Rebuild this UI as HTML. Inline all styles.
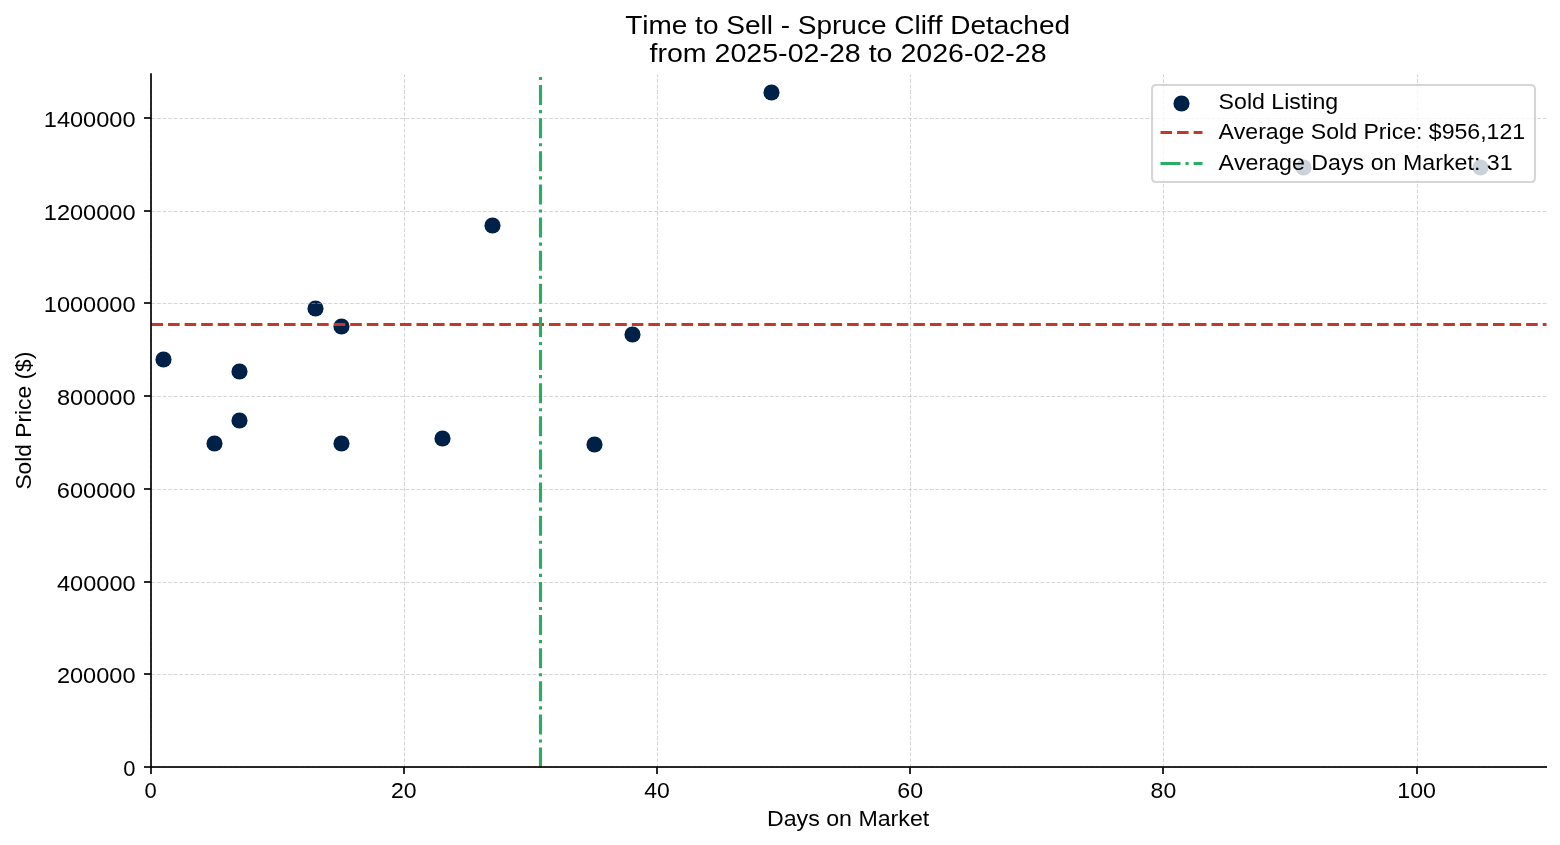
<!DOCTYPE html>
<html><head><meta charset="utf-8"><title>Time to Sell - Spruce Cliff Detached</title>
<style>
html,body{margin:0;padding:0;background:#fff;}
body{width:1560px;height:845px;overflow:hidden;}
svg{display:block;will-change:transform;}
text{font-family:"Liberation Sans",sans-serif;font-kerning:none;font-variant-ligatures:none;fill:#000;stroke:#000;stroke-width:0;}
</style></head><body>
<svg width="1560" height="845" viewBox="0 0 1560 845">
<rect width="1560" height="845" fill="#fff"/>
<circle cx="163.5" cy="359.5" r="8.069" fill="#002147"/>
<circle cx="214.5" cy="443.5" r="8.069" fill="#002147"/>
<circle cx="239.5" cy="371.5" r="8.069" fill="#002147"/>
<circle cx="239.5" cy="420.5" r="8.069" fill="#002147"/>
<circle cx="315.5" cy="308.5" r="8.069" fill="#002147"/>
<circle cx="341.5" cy="326.5" r="8.069" fill="#002147"/>
<circle cx="341.5" cy="443.5" r="8.069" fill="#002147"/>
<circle cx="442.5" cy="438.5" r="8.069" fill="#002147"/>
<circle cx="492.5" cy="225.5" r="8.069" fill="#002147"/>
<circle cx="594.5" cy="444.5" r="8.069" fill="#002147"/>
<circle cx="632.5" cy="334.5" r="8.069" fill="#002147"/>
<circle cx="771.5" cy="92.5" r="8.069" fill="#002147"/>
<circle cx="1303.5" cy="167.5" r="8.069" fill="#002147"/>
<circle cx="1480.5" cy="167.5" r="8.069" fill="#002147"/>
<path d="M 151.5 767.5 L 151.5 74.5" fill="none" stroke="#b0b0b0" stroke-width="1.042" stroke-dasharray="3.854,1.667" stroke-opacity="0.5"/>
<line x1="151" y1="767" x2="151" y2="774" stroke="#000" stroke-width="1.667"/>
<text x="144.538" y="797.613" font-size="22.145" textLength="12.214" lengthAdjust="spacingAndGlyphs">0</text>
<path d="M 404.5 767.5 L 404.5 74.5" fill="none" stroke="#b0b0b0" stroke-width="1.042" stroke-dasharray="3.854,1.667" stroke-opacity="0.5"/>
<line x1="404" y1="767" x2="404" y2="774" stroke="#000" stroke-width="1.667"/>
<text x="390.96" y="797.613" font-size="22.145" textLength="25.663" lengthAdjust="spacingAndGlyphs">20</text>
<path d="M 657.5 767.5 L 657.5 74.5" fill="none" stroke="#b0b0b0" stroke-width="1.042" stroke-dasharray="3.854,1.667" stroke-opacity="0.5"/>
<line x1="657" y1="767" x2="657" y2="774" stroke="#000" stroke-width="1.667"/>
<text x="644.285" y="797.613" font-size="22.145" textLength="25.533" lengthAdjust="spacingAndGlyphs">40</text>
<path d="M 910.5 767.5 L 910.5 74.5" fill="none" stroke="#b0b0b0" stroke-width="1.042" stroke-dasharray="3.854,1.667" stroke-opacity="0.5"/>
<line x1="910" y1="767" x2="910" y2="774" stroke="#000" stroke-width="1.667"/>
<text x="897.274" y="797.613" font-size="22.145" textLength="25.752" lengthAdjust="spacingAndGlyphs">60</text>
<path d="M 1163.5 767.5 L 1163.5 74.5" fill="none" stroke="#b0b0b0" stroke-width="1.042" stroke-dasharray="3.854,1.667" stroke-opacity="0.5"/>
<line x1="1163" y1="767" x2="1163" y2="774" stroke="#000" stroke-width="1.667"/>
<text x="1150.608" y="797.613" font-size="22.145" textLength="25.613" lengthAdjust="spacingAndGlyphs">80</text>
<path d="M 1417.5 767.5 L 1417.5 74.5" fill="none" stroke="#b0b0b0" stroke-width="1.042" stroke-dasharray="3.854,1.667" stroke-opacity="0.5"/>
<line x1="1417" y1="767" x2="1417" y2="774" stroke="#000" stroke-width="1.667"/>
<text x="1397.286" y="797.613" font-size="22.145" textLength="38.771" lengthAdjust="spacingAndGlyphs">100</text>
<text x="766.925" y="826.11" font-size="21.844" textLength="162.315" lengthAdjust="spacingAndGlyphs">Days on Market</text>
<path d="M 151.5 767.5 L 1546.5 767.5" fill="none" stroke="#b0b0b0" stroke-width="1.042" stroke-dasharray="3.854,1.667" stroke-opacity="0.5"/>
<line x1="151" y1="767" x2="144" y2="767" stroke="#000" stroke-width="1.667"/>
<text x="123.327" y="776.115" font-size="22.145" textLength="12.214" lengthAdjust="spacingAndGlyphs">0</text>
<path d="M 151.5 674.5 L 1546.5 674.5" fill="none" stroke="#b0b0b0" stroke-width="1.042" stroke-dasharray="3.854,1.667" stroke-opacity="0.5"/>
<line x1="151" y1="674" x2="144" y2="674" stroke="#000" stroke-width="1.667"/>
<text x="56.875" y="683.372" font-size="22.145" textLength="78.73" lengthAdjust="spacingAndGlyphs">200000</text>
<path d="M 151.5 582.5 L 1546.5 582.5" fill="none" stroke="#b0b0b0" stroke-width="1.042" stroke-dasharray="3.854,1.667" stroke-opacity="0.5"/>
<line x1="151" y1="582" x2="144" y2="582" stroke="#000" stroke-width="1.667"/>
<text x="57.012" y="590.629" font-size="22.145" textLength="78.591" lengthAdjust="spacingAndGlyphs">400000</text>
<path d="M 151.5 489.5 L 1546.5 489.5" fill="none" stroke="#b0b0b0" stroke-width="1.042" stroke-dasharray="3.854,1.667" stroke-opacity="0.5"/>
<line x1="151" y1="489" x2="144" y2="489" stroke="#000" stroke-width="1.667"/>
<text x="56.791" y="497.886" font-size="22.145" textLength="78.815" lengthAdjust="spacingAndGlyphs">600000</text>
<path d="M 151.5 396.5 L 1546.5 396.5" fill="none" stroke="#b0b0b0" stroke-width="1.042" stroke-dasharray="3.854,1.667" stroke-opacity="0.5"/>
<line x1="151" y1="396" x2="144" y2="396" stroke="#000" stroke-width="1.667"/>
<text x="56.925" y="405.144" font-size="22.145" textLength="78.679" lengthAdjust="spacingAndGlyphs">800000</text>
<path d="M 151.5 303.5 L 1546.5 303.5" fill="none" stroke="#b0b0b0" stroke-width="1.042" stroke-dasharray="3.854,1.667" stroke-opacity="0.5"/>
<line x1="151" y1="303" x2="144" y2="303" stroke="#000" stroke-width="1.667"/>
<text x="43.772" y="312.401" font-size="22.145" textLength="91.832" lengthAdjust="spacingAndGlyphs">1000000</text>
<path d="M 151.5 211.5 L 1546.5 211.5" fill="none" stroke="#b0b0b0" stroke-width="1.042" stroke-dasharray="3.854,1.667" stroke-opacity="0.5"/>
<line x1="151" y1="211" x2="144" y2="211" stroke="#000" stroke-width="1.667"/>
<text x="43.772" y="219.658" font-size="22.145" textLength="91.832" lengthAdjust="spacingAndGlyphs">1200000</text>
<path d="M 151.5 118.5 L 1546.5 118.5" fill="none" stroke="#b0b0b0" stroke-width="1.042" stroke-dasharray="3.854,1.667" stroke-opacity="0.5"/>
<line x1="151" y1="118" x2="144" y2="118" stroke="#000" stroke-width="1.667"/>
<text x="43.772" y="126.915" font-size="22.145" textLength="91.832" lengthAdjust="spacingAndGlyphs">1400000</text>
<text x="-38.328" y="420.65" font-size="21.844" textLength="137.845" lengthAdjust="spacingAndGlyphs" transform="rotate(-90 30.614 420.65)">Sold Price ($)</text>
<path d="M 151.5 324.5 L 1546.5 324.5" fill="none" stroke="#c0392b" stroke-width="3.125" stroke-dasharray="11.562,5"/>
<path d="M 540.5 767.5 L 540.5 74.5" fill="none" stroke="#27ae60" stroke-width="3.125" stroke-dasharray="20,5,3.125,5"/>
<path d="M 151 767 L 151 74" fill="none" stroke="#000000" stroke-width="1.667" stroke-linecap="square" stroke-linejoin="miter"/>
<path d="M 151 767 L 1546 767" fill="none" stroke="#000000" stroke-width="2" stroke-opacity="0.835" stroke-linecap="square" stroke-linejoin="miter"/>
<text x="625.153" y="33.605" font-size="26.213" textLength="444.876" lengthAdjust="spacingAndGlyphs">Time to Sell - Spruce Cliff Detached</text>
<text x="649.506" y="61.6" font-size="26.248" textLength="397.039" lengthAdjust="spacingAndGlyphs">from 2025-02-28 to 2026-02-28</text>
<path d="M 1156.167 182 L 1530.833 182 Q 1535 182 1535 177.833 L 1535 89.167 Q 1535 85 1530.833 85 L 1156.167 85 Q 1152 85 1152 89.167 L 1152 177.833 Q 1152 182 1156.167 182 z" fill="#ffffff" stroke="#cccccc" stroke-width="2.083" opacity="0.8" stroke-linejoin="miter"/>
<circle cx="1181.5" cy="103.5" r="8.069" fill="#002147"/>
<text x="1218.621" y="108.68" font-size="21.844" textLength="119.515" lengthAdjust="spacingAndGlyphs">Sold Listing</text>
<path d="M 1160.5 132.5 L 1181.5 132.5 L 1202.5 132.5" fill="none" stroke="#c0392b" stroke-width="3.125" stroke-dasharray="11.562,5"/>
<text x="1218.415" y="139.26" font-size="21.844" textLength="306.74" lengthAdjust="spacingAndGlyphs">Average Sold Price: $956,121</text>
<path d="M 1160.5 163.5 L 1181.5 163.5 L 1202.5 163.5" fill="none" stroke="#27ae60" stroke-width="3.125" stroke-dasharray="20,5,3.125,5"/>
<text x="1218.414" y="169.839" font-size="21.844" textLength="294.204" lengthAdjust="spacingAndGlyphs">Average Days on Market: 31</text>
</svg>
</body></html>
